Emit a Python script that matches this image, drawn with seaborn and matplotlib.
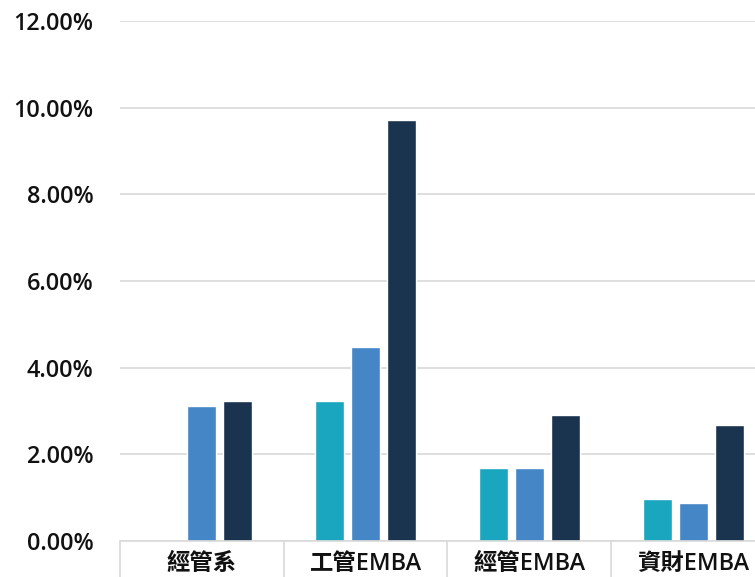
import numpy as np
import pandas as pd
import matplotlib
matplotlib.use("Agg")
import matplotlib.pyplot as plt
import seaborn as sns
from matplotlib.ticker import FuncFormatter

categories = ["經管系", "工管EMBA", "經管EMBA", "資財EMBA"]
series_names = ["系列1", "系列2", "系列3"]
series1 = [np.nan, 3.22, 1.69, 0.96]
series2 = [3.12, 4.48, 1.69, 0.88]
series3 = [3.22, 9.71, 2.90, 2.68]
colors = ["#1AA6BF", "#4586C6", "#1A334F"]
yticks = [0, 2, 4, 6, 8, 10, 12]

rows = []
for name, vals in zip(series_names, [series1, series2, series3]):
    for c, v in zip(categories, vals):
        rows.append({"cat": c, "series": name, "value": v})
df = pd.DataFrame(rows)

sns.set_style("white")
plt.rcParams["font.family"] = ["Open Sans", "Noto Sans CJK TC", "DejaVu Sans"]

fig = plt.figure(figsize=(7.55, 5.77), dpi=100)
W, H = 755, 577
left, right, top, bottom = 120, 775, 21, 541
ax = fig.add_axes([left / W, (H - bottom) / H, (right - left) / W, (bottom - top) / H])

sns.barplot(data=df, x="cat", y="value", hue="series", palette=colors,
            width=0.66, gap=0.2, legend=False, ax=ax, order=categories,
            hue_order=series_names, saturation=1, errorbar=None)

ax.set_ylim(0, 12)
ax.set_xlim(-0.5, 3.5)
ax.set_yticks(yticks)
ax.yaxis.set_major_formatter(FuncFormatter(lambda v, p: f"{v:.2f}%"))
ax.yaxis.grid(True, color="#D9D9D9", linewidth=1.2)
ax.set_axisbelow(True)
for s in ["top", "right", "left"]:
    ax.spines[s].set_visible(False)
ax.spines["bottom"].set_color("#D9D9D9")
ax.spines["bottom"].set_linewidth(1.2)
ax.set_xlabel("")
ax.set_ylabel("")

ax.set_xticks(range(len(categories)))
ax.set_xticklabels(categories, fontsize=16.8, fontweight="semibold", color="#111111")
ax.set_xticks([-0.5, 0.5, 1.5, 2.5, 3.5], minor=True)
ax.tick_params(axis="x", which="major", bottom=True, length=0, pad=8)
ax.tick_params(axis="x", which="minor", bottom=True, length=28, color="#D9D9D9", width=1.2, direction="out")
ax.tick_params(axis="y", length=0, pad=19)
for lab in ax.get_yticklabels():
    lab.set_fontsize(16.8)
    lab.set_fontweight("semibold")
    lab.set_color("#111111")

fig.savefig("out.png", dpi=100)
